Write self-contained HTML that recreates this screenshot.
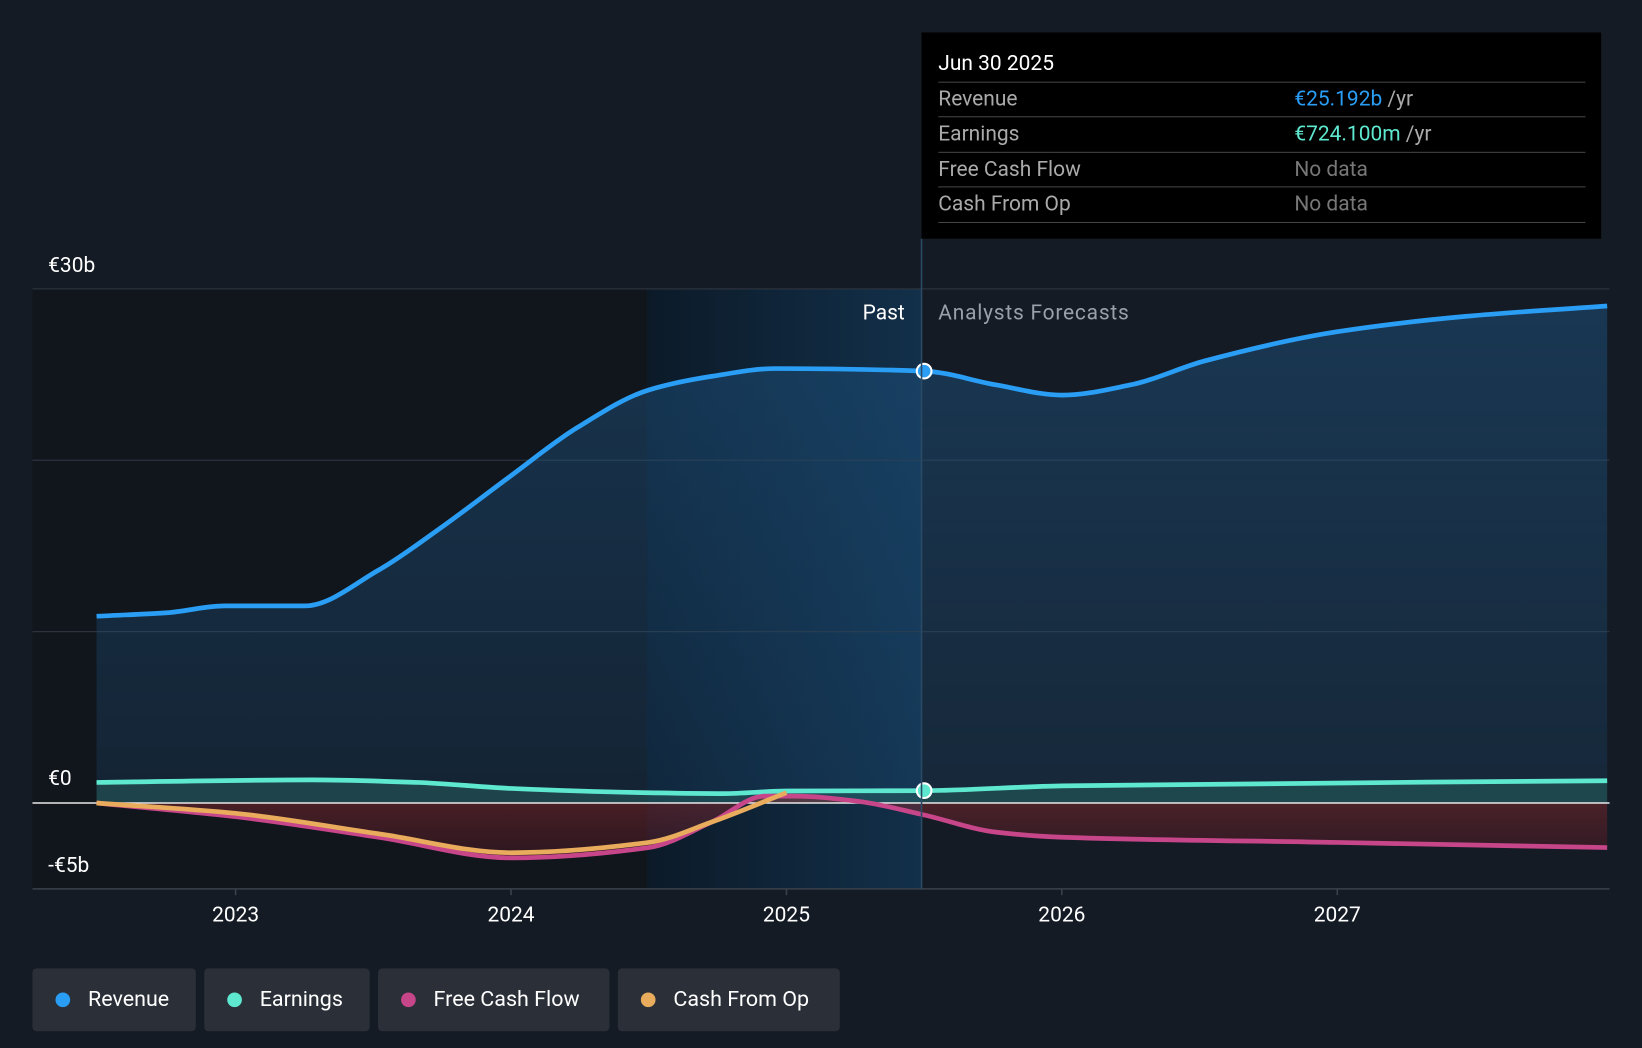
<!DOCTYPE html>
<html><head><meta charset="utf-8"><style>
html,body{margin:0;padding:0;background:#151b24;overflow:hidden}
#wrap{width:1568px;height:1001px;transform:scale(1.04719,1.04695);transform-origin:0 0;position:relative;font-family:"Roboto","Liberation Sans",sans-serif}
.leg{position:absolute;top:925px;height:60px;background:#2a2f38;border-radius:4px;color:#fff;font-size:20.5px;display:flex;align-items:center;box-sizing:border-box;padding-left:22px}
.leg i{width:14px;height:14px;border-radius:50%;display:inline-block;margin-right:17px}
#tip{position:absolute;left:880px;top:31px;width:649px;height:197px;background:#000;color:#fff;font-size:20px}
.row{position:absolute;left:16px;width:618px;border-top:1px solid #444;height:33px;line-height:31px;color:#aaa}
.row span{position:absolute;left:340px}
</style></head><body><div id="wrap">
<svg id="svg" width="1568" height="1001" style="position:absolute;left:0;top:0">
<defs>
<linearGradient id="rg" x1="0" y1="0" x2="0" y2="1"><stop offset="0" stop-color="#1d4f7a" stop-opacity="0.55"/><stop offset="1" stop-color="#1d4f7a" stop-opacity="0.25"/></linearGradient>
<linearGradient id="fg" x1="0" y1="0" x2="0" y2="1"><stop offset="0" stop-color="#8a2a30" stop-opacity="0.9"/><stop offset="1" stop-color="#5a1a25" stop-opacity="0.7"/></linearGradient>
<linearGradient id="pg" x1="0" y1="0" x2="1" y2="0"><stop offset="0" stop-color="#0c1a28"/><stop offset="1" stop-color="#12304a"/></linearGradient>
</defs>
<rect x="31" y="276" width="587" height="573" fill="#11151c"/>
<rect x="618" y="276" width="262" height="573" fill="url(#pg)"/>
<g id="grid"></g>
<g id="marks"></g>
<line x1="880" y1="228" x2="880" y2="849" stroke="#2a4a66" stroke-width="1.5"/>
<text x="864" y="305" fill="#fff" font-size="20" text-anchor="end">Past</text>
<text x="896" y="305" fill="#9aa0a8" font-size="20" textLength="182">Analysts Forecasts</text>
</svg>
<div id="tip">
<div style="position:absolute;left:16px;top:17px;font-size:20px">Jun 30 2025</div>
<div class="row" style="top:47px">Revenue<span><b style="font-weight:normal;color:#2a9df4">€25.192b</b> /yr</span></div>
<div class="row" style="top:80px">Earnings<span><b style="font-weight:normal;color:#5ee8d0">€724.100m</b> /yr</span></div>
<div class="row" style="top:114px">Free Cash Flow<span style="color:#777">No data</span></div>
<div class="row" style="top:147px;border-bottom:1px solid #444">Cash From Op<span style="color:#777">No data</span></div>
</div>
<div class="leg" style="left:31px;width:156px"><i style="background:#2a9df4"></i>Revenue</div>
<div class="leg" style="left:195px;width:158px"><i style="background:#5ee8d0"></i>Earnings</div>
<div class="leg" style="left:361px;width:221px"><i style="background:#c7468a"></i>Free Cash Flow</div>
<div class="leg" style="left:590px;width:212px"><i style="background:#e8ac5c"></i>Cash From Op</div>
</div>
<script>
const yTicks=[30,0,-5];
const yTickLabels=["€30b","€0","-€5b"];
const xTicks=[2023,2024,2025,2026,2027];
const revX=[2022.495,2022.75,2022.96,2023.25,2023.52,2023.74,2024,2024.24,2024.5,2024.73,2024.96,2025.5,2025.76,2026,2026.25,2026.52,2027,2027.47,2027.98];
const revY=[10.9,11.1,11.5,11.5,13.6,16.0,19.1,21.9,24.1,24.9,25.35,25.2,24.4,23.8,24.4,25.8,27.5,28.4,29.0];
const earnX=[2022.495,2023.28,2023.66,2024,2024.5,2024.77,2025,2025.5,2026,2027.98];
const earnY=[1.2,1.35,1.2,0.85,0.6,0.55,0.7,0.72,1.0,1.3];
const fcfX=[2022.495,2023,2023.52,2024,2024.5,2024.73,2024.92,2025.03,2025.26,2025.5,2025.76,2026,2027,2027.98];
const fcfY=[0,-0.8,-2.0,-3.2,-2.6,-1.1,0.4,0.4,0.1,-0.7,-1.7,-2.0,-2.3,-2.6];
const cfoX=[2022.495,2023,2023.52,2024,2024.5,2024.73,2025];
const cfoY=[0,-0.6,-1.8,-2.9,-2.3,-1.1,0.6];
const X=v=>225+(v-2023)*263, Y=v=>767-v*16.37;
const NS="http://www.w3.org/2000/svg";
function mk(tag,at,par){const e=document.createElementNS(NS,tag);for(const k in at)e.setAttribute(k,at[k]);document.getElementById(par).appendChild(e);return e;}
function path(xs,ys){const p=xs.map((x,i)=>[X(x),Y(ys[i])]);const n=p.length;
const dx=[],s=[];for(let i=0;i<n-1;i++){dx.push(p[i+1][0]-p[i][0]);s.push((p[i+1][1]-p[i][1])/dx[i]);}
const m=[s[0]];for(let i=1;i<n-1;i++){if(s[i-1]*s[i]<=0)m.push(0);else{const w1=2*dx[i]+dx[i-1],w2=dx[i]+2*dx[i-1];m.push((w1+w2)/(w1/s[i-1]+w2/s[i]));}}m.push(s[n-2]);
let d="M"+p[0][0]+","+p[0][1];
for(let i=0;i<n-1;i++){const h=dx[i]/3;d+=" C"+(p[i][0]+h)+","+(p[i][1]+m[i]*h)+" "+(p[i+1][0]-h)+","+(p[i+1][1]-m[i+1]*h)+" "+p[i+1][0]+","+p[i+1][1];}return d;}
[30,20,10].forEach(v=>{const l=mk("line",{x1:31,x2:1537,y1:Y(v),y2:Y(v),stroke:"#2c333d","stroke-width":1.2},"grid");

});
const bl=mk("line",{x1:31,x2:1537,y1:849,y2:849,stroke:"#3a414b","stroke-width":1.5},"grid");


yTicks.forEach((v,i)=>{const t=mk("text",{x:46,y:v===0?Y(v)-17:Y(v)-16,fill:"#fff","font-size":20},"grid");
t.textContent=yTickLabels[i];

});
xTicks.forEach(v=>{const l=mk("line",{x1:X(v),x2:X(v),y1:849,y2:855,stroke:"#3a414b","stroke-width":1.5},"grid");


const t=mk("text",{x:X(v),y:880,fill:"#fff","font-size":20,"text-anchor":"middle"},"grid");t.textContent=v;

});
const rp=path(revX,revY);
const ra=mk("path",{d:rp+" L"+X(revX[revX.length-1])+","+Y(0)+" L"+X(revX[0])+","+Y(0)+"Z",fill:"url(#rg)"},"marks");


const ep=path(earnX,earnY);
const ea=mk("path",{d:ep+" L"+X(earnX[earnX.length-1])+","+Y(0)+" L"+X(earnX[0])+","+Y(0)+"Z",fill:"#2a6a66","fill-opacity":0.45},"marks");


const fp=path(fcfX,fcfY);
const fa=mk("path",{d:fp+" L"+X(fcfX[fcfX.length-1])+","+Y(0)+" L"+X(fcfX[0])+","+Y(0)+"Z",fill:"url(#fg)","fill-opacity":0.55},"marks");


const zl=mk("line",{x1:31,x2:1537,y1:Y(0),y2:Y(0),stroke:"#e8e8e8","stroke-width":1.5},"marks");


const rl=mk("path",{d:rp,fill:"none",stroke:"#2a9df4","stroke-width":4.5},"marks");


const el=mk("path",{d:ep,fill:"none",stroke:"#5ee8d0","stroke-width":4.5},"marks");


const fl=mk("path",{d:fp,fill:"none",stroke:"#c7468a","stroke-width":4.5},"marks");


const cl=mk("path",{d:path(cfoX,cfoY),fill:"none",stroke:"#e8ac5c","stroke-width":4.5},"marks");


const d1=mk("circle",{cx:X(2025.5),cy:Y(revY[11]),r:7,fill:"#2a9df4",stroke:"#fff","stroke-width":2},"marks");


const d2=mk("circle",{cx:X(2025.5),cy:Y(earnY[7]),r:7,fill:"#5ee8d0",stroke:"#fff","stroke-width":2},"marks");


</script>
</body></html>
